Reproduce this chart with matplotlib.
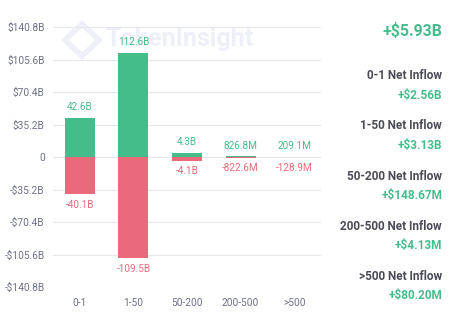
import matplotlib
matplotlib.use("Agg")
import matplotlib.pyplot as plt
from matplotlib.patches import Polygon

plt.rcParams['font.family'] = ['Roboto', 'DejaVu Sans']

# Holder cohorts and their inflow / outflow (billions USD)
categories = ["0-1", "1-50", "50-200", "200-500", ">500"]
inflow = [42.6, 112.6, 4.3, 0.8268, 0.2091]
outflow = [-40.1, -109.5, -4.1, -0.8226, -0.1289]
inflow_labels = ["42.6B", "112.6B", "4.3B", "826.8M", "209.1M"]
outflow_labels = ["-40.1B", "-109.5B", "-4.1B", "-822.6M", "-128.9M"]

yticks = [140.8, 105.6, 70.4, 35.2, 0, -35.2, -70.4, -105.6, -140.8]
ytick_labels = ["$140.8B", "$105.6B", "$70.4B", "$35.2B", "0",
                "-$35.2B", "-$70.4B", "-$105.6B", "-$140.8B"]

total_label = "+$5.93B"
net_names = ["0-1 Net Inflow", "1-50 Net Inflow", "50-200 Net Inflow",
             "200-500 Net Inflow", ">500 Net Inflow"]
net_values = ["+$2.56B", "+$3.13B", "+$148.67M", "+$4.13M", "+$80.20M"]

GREEN = "#45bd8b"
RED = "#e96a7a"
TICK = "#6e7088"
DARK = "#4a4b57"
GRID = "#e6e6ec"
MARK = "#eef0f7"

W, H = 455, 324
fig = plt.figure(figsize=(W / 100, H / 100), dpi=100)


def fx(px):
    return px / W


def fy(py):
    return 1 - py / H


# faint watermark behind the chart
fig.text(fx(105), fy(39), "TokenInsight", fontsize=18, fontweight="bold",
         color=MARK, ha="left", va="center", zorder=-5)
fig.patches.append(Polygon([(fx(82), fy(24)), (fx(99), fy(40)), (fx(82), fy(56)), (fx(65), fy(40))],
                           closed=True, fill=False, edgecolor=MARK, linewidth=4,
                           transform=fig.transFigure, figure=fig, zorder=-5))

left, right, top, bottom = 53, 321, 27, 287
ax = fig.add_axes([fx(left), fy(bottom), (right - left) / W, (bottom - top) / H])
ax.patch.set_alpha(0)
ax.set_zorder(1)

x = range(len(categories))
ax.bar(x, inflow, width=0.56, color=GREEN, zorder=3)
ax.bar(x, outflow, width=0.56, color=RED, zorder=3)

for i in x:
    ax.annotate(inflow_labels[i], (i, inflow[i]), xytext=(0, 4), textcoords="offset points",
                ha="center", va="bottom", fontsize=7.2, color=GREEN)
    ax.annotate(outflow_labels[i], (i, outflow[i]), xytext=(0, -4), textcoords="offset points",
                ha="center", va="top", fontsize=7.2, color=RED)

ax.set_xlim(-0.5, len(categories) - 0.5)
ax.set_ylim(-140.8, 140.8)
ax.set_yticks(yticks)
ax.set_yticklabels(ytick_labels)
ax.set_xticks(list(x))
ax.set_xticklabels(categories)
ax.tick_params(axis="both", length=0, labelsize=7.3, labelcolor=TICK)
ax.tick_params(axis="y", pad=6)
ax.tick_params(axis="x", pad=8)
ax.grid(axis="y", color=GRID, linewidth=0.8, zorder=0)
for s in ax.spines.values():
    s.set_visible(False)

# right-hand summary panel
rx = fx(442)
fig.text(rx, fy(31), total_label, fontsize=11.4, fontweight="bold", color=GREEN,
         ha="right", va="center")
for k, (nm, val) in enumerate(zip(net_names, net_values)):
    y0 = 76 + 50 * k
    fig.text(rx, fy(y0), nm, fontsize=8.5, fontweight="bold", color=DARK,
             ha="right", va="center")
    fig.text(rx, fy(y0 + 20), val, fontsize=8.5, fontweight="bold", color=GREEN,
             ha="right", va="center")

fig.savefig("out.png", dpi=100)
